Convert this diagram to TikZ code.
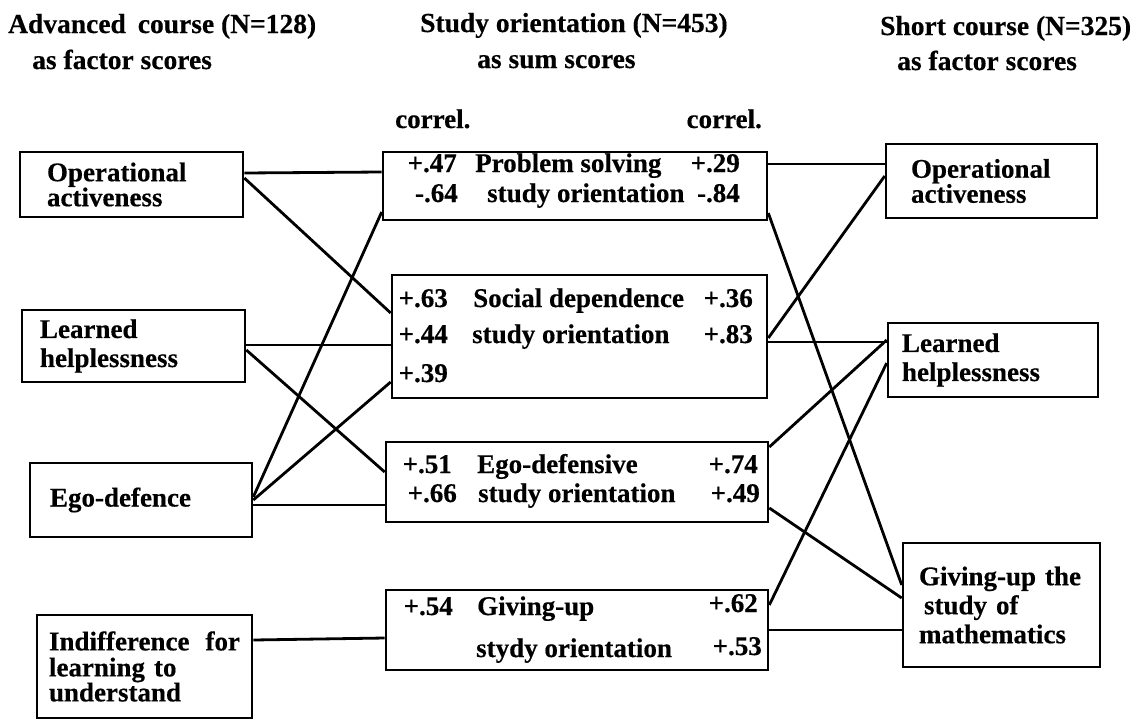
\documentclass[tikz,border=0pt]{standalone}
\usepackage{fontspec}
\setmainfont{Liberation Serif}[BoldFeatures={FakeBold=0.4}]
\newcommand{\boxfont}{\fontsize{27}{29}\selectfont\bfseries}
\newcommand{\headfont}{\fontsize{27.5}{30}\selectfont\bfseries}
\tikzset{
	fbox/.style={draw, line width=2.6pt, inner sep=0pt, align=left, font=\boxfont},
	val/.style={inner sep=0pt, font=\boxfont},
	head/.style={inner sep=0pt, font=\headfont, anchor=base west},
	link/.style={line width=2.8pt},
}
\begin{document}
\begin{tikzpicture}[x=1pt,y=-1pt]
	\useasboundingbox (0,0) rectangle (1142,720);

	% headings
	\node[head]					(advA)	at (8,33)		{Advanced\hspace{12pt}course (N=128)};
	\node[head]					(advB)	at (32,69)		{as factor scores};
	\node[head]					(stoA)	at (420,32)		{Study orientation (N=453)};
	\node[head]					(stoB)	at (477,68)		{as sum scores};
	\node[head]					(shcA)	at (880,35)		{Short course (N=325)};
	\node[head]					(shcB)	at (897,70)		{as factor scores};
	\node[val,anchor=base west]	(corA)	at (395,128)	{correl.};
	\node[val,anchor=base east]	(corB)	at (762,128)	{correl.};

	% advanced course
	\node[fbox, minimum width=223pt, minimum height=65pt, text width=169pt]	(opL) at (131.5,184.5)	{Operational\\[-4pt]activeness};
	\node[fbox, minimum width=223pt, minimum height=72pt, text width=187pt]	(lhL) at (133.5,346)	{Learned\\helplessness};
	\node[fbox, minimum width=222pt, minimum height=74pt, text width=182pt]	(edL) at (141,500)		{Ego-defence};
	\node[fbox, minimum width=215pt, minimum height=103pt, text width=191pt]	(inL) at (144.5,666.5)	{Indifference\hfill for\\[-3pt]learning to\\[-4pt]understand};

	% study orientation
	\node[fbox, minimum width=384pt, minimum height=68pt]	(ps) at (575,186)		{};
	\node[fbox, minimum width=375pt, minimum height=123pt]	(sd) at (579.5,336.5)	{};
	\node[fbox, minimum width=382pt, minimum height=80pt]	(ed) at (577,482)		{};
	\node[fbox, minimum width=382pt, minimum height=80pt]	(gu) at (577,630)		{};

	\node[val,anchor=base east]	(psA)	at (457,172)	{+.47};
	\node[val,anchor=base west]	(psB)	at (475,172)	{Problem solving};
	\node[val,anchor=base east]	(psC)	at (740,172)	{+.29};
	\node[val,anchor=base east]	(psD)	at (458,202)	{-.64};
	\node[val,anchor=base west]	(psE)	at (487,202)	{study orientation};
	\node[val,anchor=base east]	(psF)	at (740,202)	{-.84};

	\node[val,anchor=base east]	(sdA)	at (448,307)	{+.63};
	\node[val,anchor=base west]	(sdB)	at (473,307)	{Social dependence};
	\node[val,anchor=base east]	(sdC)	at (753,307)	{+.36};
	\node[val,anchor=base east]	(sdD)	at (448,343)	{+.44};
	\node[val,anchor=base west]	(sdE)	at (472,343)	{study orientation};
	\node[val,anchor=base east]	(sdF)	at (753,343)	{+.83};
	\node[val,anchor=base east]	(sdG)	at (448,382)	{+.39};

	\node[val,anchor=base east]	(edA)	at (452,473)	{+.51};
	\node[val,anchor=base west]	(edB)	at (477,473)	{Ego-defensive};
	\node[val,anchor=base east]	(edC)	at (758,473)	{+.74};
	\node[val,anchor=base east]	(edD)	at (457,502)	{+.66};
	\node[val,anchor=base west]	(edE)	at (478,502)	{study orientation};
	\node[val,anchor=base east]	(edF)	at (760,502)	{+.49};

	\node[val,anchor=base east]	(guA)	at (453,615)	{+.54};
	\node[val,anchor=base west]	(guB)	at (477,615)	{Giving-up};
	\node[val,anchor=base east]	(guC)	at (758,612)	{+.62};
	\node[val,anchor=base west]	(guD)	at (476,657)	{stydy orientation};
	\node[val,anchor=base east]	(guE)	at (762,655)	{+.53};

	% short course
	\node[fbox, minimum width=211pt, minimum height=74pt, text width=161pt]	(opR) at (991.5,181)	{Operational\\[-4pt]activeness};
	\node[fbox, minimum width=210pt, minimum height=74pt, text width=182pt]	(lhR) at (993,360)		{Learned\\helplessness};
	\node[fbox, minimum width=197pt, minimum height=124pt, text width=165pt]	(gmR) at (1001.5,605)	{Giving-up the\\\hspace{5pt}study of\\mathematics};

	% correlations, left
	\draw[link]	([yshift=11.5pt]opL.east)	-- ([yshift=14pt]ps.west);
	\draw[link]	([yshift=6.5pt]opL.east)	-- ([yshift=23.5pt]sd.west);
	\draw[link]	([yshift=1pt]lhL.east)		-- ([yshift=-8.5pt]sd.west);
	\draw[link]	([yshift=-4pt]lhL.east)		-- ([yshift=10pt]ed.west);
	\draw[link]	([yshift=3pt]edL.east)		-- ([yshift=-26pt]ps.west);
	\draw[link]	(edL.east)					-- ([yshift=-45.5pt]sd.west);
	\draw[link]	([yshift=-5pt]edL.east)		-- ([yshift=-23pt]ed.west);
	\draw[link]	([yshift=26.5pt]inL.east)	-- ([yshift=-8pt]gu.west);

	% correlations, right
	\draw[link]	([yshift=22pt]ps.east)		-- ([yshift=17pt]opR.west);
	\draw[link]	([yshift=-27pt]ps.east)		-- ([yshift=20pt]gmR.west);
	\draw[link]	([yshift=-1.5pt]sd.east)	-- ([yshift=5pt]opR.west);
	\draw[link]	([yshift=-5.5pt]sd.east)	-- ([yshift=18pt]lhR.west);
	\draw[link]	([yshift=35pt]ed.east)		-- ([yshift=20pt]lhR.west);
	\draw[link]	([yshift=25pt]gu.east)		-- ([yshift=-3pt]lhR.west);
	\draw[link]	([yshift=-26pt]ed.east)		-- ([yshift=7pt]gmR.west);
	\draw[link]	(gu.east)					-- ([yshift=-25pt]gmR.west);
\end{tikzpicture}
\end{document}
